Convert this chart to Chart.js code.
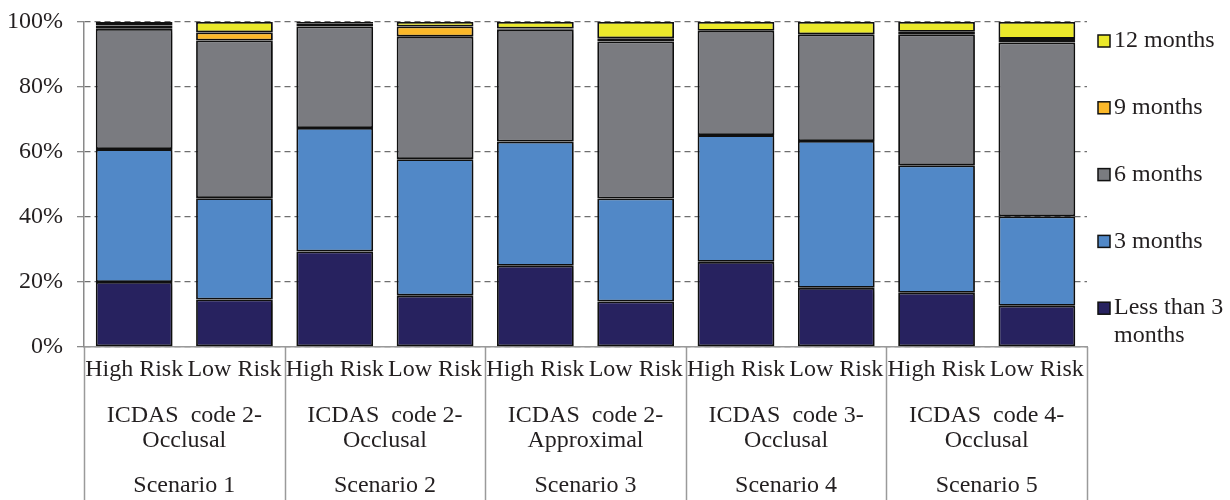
<!DOCTYPE html>
<html>
<head>
<meta charset="utf-8">
<title>Recall interval by scenario</title>
<script src="https://cdn.jsdelivr.net/npm/chart.js@4.4.0/dist/chart.umd.min.js"></script>
<style>
  body { margin: 0; background: #fff; }
  #wrap { width: 1230px; height: 500px; }
</style>
</head>
<body>
<div id="wrap"><canvas id="myBarChart" width="1230" height="500"></canvas></div>
<script>
// du lieu doc tu hinh
var categories = ['High Risk', 'Low Risk', 'High Risk', 'Low Risk', 'High Risk', 'Low Risk', 'High Risk', 'Low Risk', 'High Risk', 'Low Risk'];
var groupLines = [
  ['ICDAS  code 2-', 'Occlusal'],
  ['ICDAS  code 2-', 'Occlusal'],
  ['ICDAS  code 2-', 'Approximal'],
  ['ICDAS  code 3-', 'Occlusal'],
  ['ICDAS  code 4-', 'Occlusal']
];
var scenarios = ['Scenario 1', 'Scenario 2', 'Scenario 3', 'Scenario 4', 'Scenario 5'];
var yTicks = [0, 20, 40, 60, 80, 100];

var lessThan3 = [20.0, 14.6, 29.4, 15.8, 25.0, 14.0, 26.2, 18.2, 16.7, 12.7];
var months3 = [40.9, 31.2, 38.0, 42.0, 38.2, 31.7, 39.0, 45.2, 39.2, 27.5];
var months6 = [37.0, 48.5, 31.2, 37.7, 34.4, 48.3, 32.1, 32.8, 40.3, 53.5];
var months9 = [1.0, 2.5, 0.9, 3.1, 0.4, 1.0, 0.0, 0.0, 0.8, 1.1];
var months12 = [1.1, 3.2, 0.5, 1.4, 2.0, 5.0, 2.7, 3.8, 3.0, 5.2];

var serif = '"Liberation Serif", "DejaVu Serif", serif';
var textColor = '#231f20';

// ve nhan nhom, duong phan cach va chu thich
var groupAxisPlugin = {
  id: 'groupAxis',
  beforeDatasetsDraw: function (chart) {
    var ctx = chart.ctx;
    ctx.save();
    ctx.shadowColor = 'rgba(0,0,0,0.28)';
    ctx.shadowBlur = 4;
    ctx.shadowOffsetX = 2;
    ctx.shadowOffsetY = 2;
  },
  afterDatasetsDraw: function (chart) {
    chart.ctx.restore();
  },
  afterDraw: function (chart) {
    var ctx = chart.ctx;
    var x = chart.scales.x;
    var area = chart.chartArea;
    var step = x.getPixelForValue(1) - x.getPixelForValue(0);
    ctx.save();
    ctx.strokeStyle = '#9a9a9a';
    ctx.lineWidth = 1.5;
    for (var g = 0; g <= scenarios.length; g++) {
      var px = g < scenarios.length ? x.getPixelForValue(g * 2) - step / 2 : x.getPixelForValue(g * 2 - 1) + step / 2;
      px = Math.round(px) + 0.5;
      ctx.beginPath();
      ctx.moveTo(px, area.bottom);
      ctx.lineTo(px, chart.height);
      ctx.stroke();
    }
    ctx.fillStyle = textColor;
    ctx.font = '24px ' + serif;
    ctx.textAlign = 'center';
    ctx.textBaseline = 'middle';
    for (var i = 0; i < scenarios.length; i++) {
      var cx = (x.getPixelForValue(i * 2) + x.getPixelForValue(i * 2 + 1)) / 2;
      ctx.fillText(groupLines[i][0], cx, area.bottom + 69);
      ctx.fillText(groupLines[i][1], cx, area.bottom + 94);
      ctx.fillText(scenarios[i], cx, area.bottom + 139);
    }

    // chu thich ben phai, thu tu dao nguoc
    var ds = chart.data.datasets;
    var lx = area.right + 11;
    ctx.textAlign = 'left';
    for (var k = 0; k < ds.length; k++) {
      var d = ds[ds.length - 1 - k];
      var cy = area.top + 19 + k * 66.8;
      ctx.fillStyle = d.backgroundColor;
      ctx.fillRect(lx, cy - 6, 12, 12);
      ctx.strokeStyle = '#111';
      ctx.lineWidth = 1.5;
      ctx.strokeRect(lx, cy - 6, 12, 12);
      ctx.fillStyle = textColor;
      var lines = d.label.split('\n');
      lines.forEach(function (t, j) {
        ctx.fillText(t, lx + 16, cy + j * 28);
      });
    }
    ctx.restore();
  }
};

function buildBarChart() {
  var colors = ['#27225f', '#5188c7', '#7a7b80', '#fbb829', '#ebe92b'];
  var labels = ['Less than 3\nmonths', '3 months', '6 months', '9 months', '12 months'];
  var values = [lessThan3, months3, months6, months9, months12];

  var datasets = values.map(function (v, i) {
    return {
      label: labels[i],
      data: v,
      backgroundColor: colors[i],
      borderColor: '#111111',
      borderWidth: 1.8,
      borderSkipped: false,
      barPercentage: 0.765,
      categoryPercentage: 1.0
    };
  });

  var options = {
    responsive: false,
    animation: false,
    layout: { padding: { top: 22, right: 143, left: 0, bottom: 0 } },
    plugins: {
      legend: { display: false },
      tooltip: { enabled: false }
    },
    scales: {
      x: {
        stacked: true,
        grid: { display: false, drawTicks: false },
        border: { display: true, color: '#9a9a9a', width: 1.5 },
        ticks: {
          color: textColor,
          font: { family: serif, size: 24 },
          padding: 8,
          maxRotation: 0,
          autoSkip: false
        },
        afterFit: function (scale) { scale.height = 153; }
      },
      y: {
        stacked: true,
        min: 0,
        max: 100,
        afterBuildTicks: function (scale) {
          scale.ticks = yTicks.map(function (v) { return { value: v }; });
        },
        grid: {
          color: '#6f6f6f',
          lineWidth: 1.3,
          tickLength: 7,
          tickColor: '#8a8a8a',
          tickBorderDash: [],
          drawOnChartArea: true
        },
        border: { display: true, color: '#8a8a8a', width: 1.5, dash: [6, 4] },
        ticks: {
          color: textColor,
          font: { family: serif, size: 24 },
          padding: 14,
          callback: function (value) { return value + '%'; }
        },
        afterFit: function (scale) {
          scale.width = 84;
          scale.paddingTop = 0;
          scale.paddingBottom = 0;
        }
      }
    }
  };

  var ctx = document.getElementById('myBarChart').getContext('2d');
  new Chart(ctx, {
    type: 'bar',
    data: { labels: categories, datasets: datasets },
    options: options,
    plugins: [groupAxisPlugin]
  });
}

buildBarChart();
</script>
</body>
</html>
